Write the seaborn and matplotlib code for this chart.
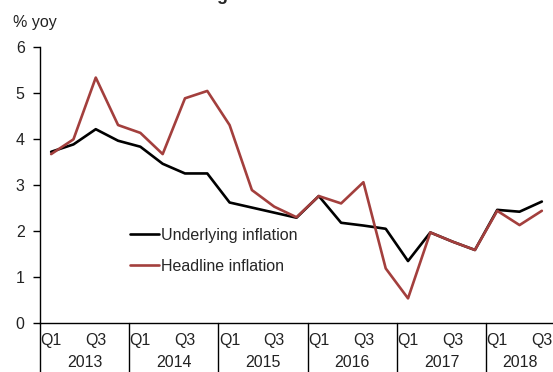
import numpy as np
import pandas as pd
import matplotlib
matplotlib.use("Agg")
import matplotlib.pyplot as plt
import seaborn as sns

# Quarterly inflation, 2013 Q1 - 2018 Q3 (% yoy)
years = ["2013", "2014", "2015", "2016", "2017", "2018"]
quarter_labels = ["Q1", "", "Q3", ""]
underlying = [3.72, 3.88, 4.21, 3.96, 3.83, 3.46, 3.25, 3.25,
              2.62, 2.51, 2.40, 2.29, 2.76, 2.18, 2.12, 2.05,
              1.35, 1.97, 1.77, 1.59, 2.46, 2.42, 2.64]
headline = [3.67, 3.99, 5.33, 4.30, 4.13, 3.67, 4.88, 5.04,
            4.30, 2.89, 2.53, 2.30, 2.76, 2.60, 3.06, 1.19,
            0.54, 1.97, 1.77, 1.59, 2.44, 2.13, 2.44]
series_names = ["Underlying inflation", "Headline inflation"]
colors = ["#000000", "#A33F3D"]

n = len(underlying)
df = pd.DataFrame({
    "t": list(range(n)) * 2,
    "value": underlying + headline,
    "series": [series_names[0]] * n + [series_names[1]] * n,
})

sns.set_style("white")
plt.rcParams["font.family"] = ["Liberation Sans", "DejaVu Sans"]
plt.rcParams["font.size"] = 11.5

fig = plt.figure(figsize=(5.53, 3.72), dpi=100)
ax = fig.add_axes([40 / 553, 0.131, 1 - 40 / 553, 0.7435])

sns.lineplot(data=df, x="t", y="value", hue="series", palette=colors,
             linewidth=1.9, ax=ax)

ax.set_xlim(-0.5, n - 0.5)
ax.set_ylim(0, 6)
ax.set_yticks(range(0, 7))
ax.set_xticks([])
ax.set_xlabel("")
ax.set_ylabel("")
sns.despine(ax=ax)
for s in ["left", "bottom"]:
    ax.spines[s].set_color("black")
    ax.spines[s].set_linewidth(1.0)
ax.tick_params(axis="y", direction="out", length=5, width=1, color="black",
               pad=6, labelsize=11.5, labelcolor="#222222", left=True)

# category axis: quarter labels, year labels and separators
trans = ax.get_xaxis_transform()
for i, yr in enumerate(years):
    start = i * 4 - 0.5
    ax.plot([start, start], [0, -0.25], transform=trans, color="black",
            lw=1.0, clip_on=False)
    quarters = [t for t in range(i * 4, i * 4 + 4) if t < n]
    for t in quarters:
        ql = quarter_labels[t - i * 4]
        if ql:
            ax.text(t, -0.064, ql, transform=trans, ha="center",
                    va="center", fontsize=11.5, color="#222222")
    ax.text(np.mean(quarters), -0.143, yr, transform=trans, ha="center",
            va="center", fontsize=11.5, color="#222222")

fig.text(13 / 553, 1 - 22 / 372, "% yoy", ha="left", va="center",
         fontsize=11.5, color="#222222")
fig.text(0.5, 1.0, "Figure 3: Inflation", ha="center",
         va="baseline", fontsize=13, fontweight="bold")

ax.legend(loc="upper left", bbox_to_anchor=(130 / 553, 1 - 228 / 372),
          bbox_transform=fig.transFigure, frameon=False, borderpad=0,
          borderaxespad=0, handlelength=1.8, handletextpad=0.15,
          labelspacing=1.0, fontsize=11.5)

fig.savefig("out.png", dpi=100)
